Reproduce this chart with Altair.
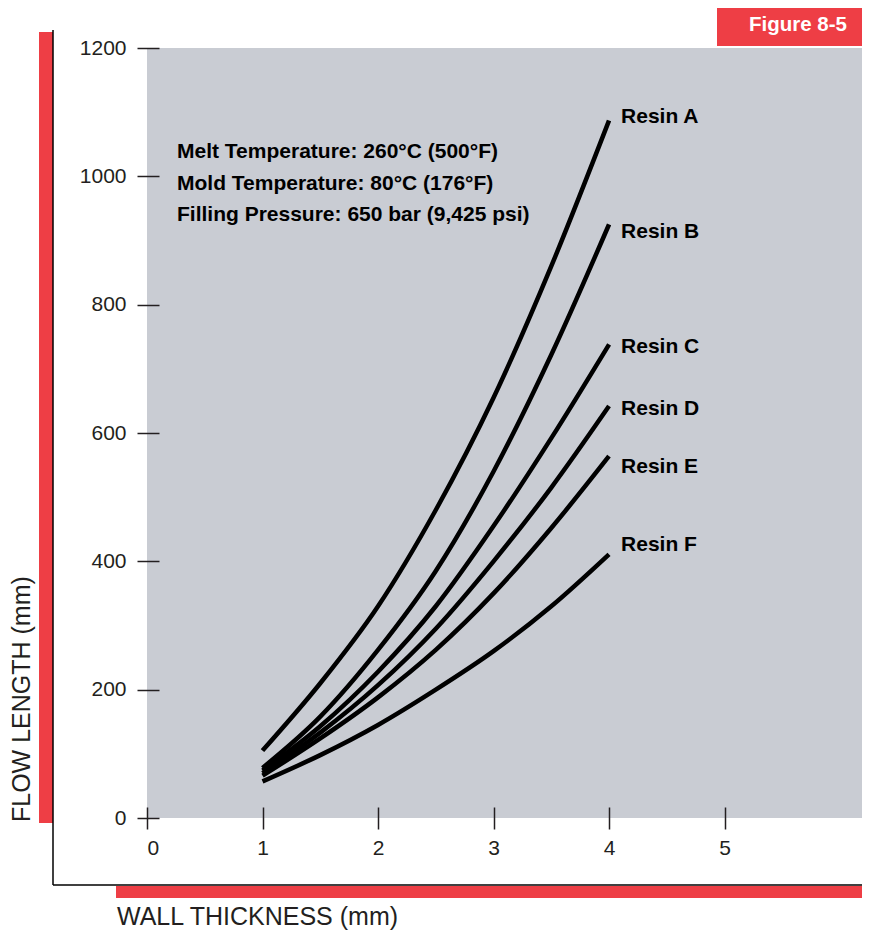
import altair as alt
import pandas as pd

# ---- data ----
thickness = [1.0, 1.5, 2.0, 2.5, 3.0, 3.5, 4.0]
resin_a = [105, 210, 330, 480, 655, 860, 1087]
resin_b = [78, 158, 262, 385, 540, 722, 925]
resin_c = [74, 143, 228, 330, 455, 592, 738]
resin_d = [70, 133, 207, 295, 400, 515, 642]
resin_e = [66, 124, 188, 262, 350, 452, 564]
resin_f = [57, 98, 145, 200, 260, 330, 411]
resins = ["Resin A", "Resin B", "Resin C", "Resin D", "Resin E", "Resin F"]
series = [resin_a, resin_b, resin_c, resin_d, resin_e, resin_f]
label_x = [4, 4, 4, 4, 4, 4]
label_y = [1093, 913, 734, 637, 547, 425]
x_ticks = [0, 1, 2, 3, 4, 5]
y_ticks = [0, 200, 400, 600, 800, 1000, 1200]
notes = ["Melt Temperature: 260°C (500°F)",
         "Mold Temperature: 80°C (176°F)",
         "Filling Pressure: 650 bar (9,425 psi)"]

rows = []
for name, vals in zip(resins, series):
    for t, v in zip(thickness, vals):
        rows.append({"thickness": t, "flow": v, "resin": name})
lines_df = pd.DataFrame(rows)
labels_df = pd.DataFrame({"resin": resins, "thickness": label_x, "flow": label_y})

W, H = 715, 770
RED = "#ee3e45"
GRAY = "#c9ccd3"
INK = "#231f20"
FONT = "Liberation Sans"

x_scale = alt.Scale(domain=[0, 6.19], nice=False, zero=False)
y_scale = alt.Scale(domain=[0, 1200], nice=False)

x_axis = alt.Axis(values=x_ticks, format="d", title=None, offset=-11, tickSize=22,
                  labelPadding=8, domain=False, grid=False, labelFont=FONT,
                  labelFontSize=21, labelColor=INK, tickColor=INK, tickWidth=1.5)
y_axis = alt.Axis(values=y_ticks, format="d", title=None, offset=-12, tickSize=22,
                  labelPadding=11, domain=False, grid=False, labelFont=FONT,
                  labelFontSize=21, labelColor=INK, tickColor=INK, tickWidth=1.5)

dummy = alt.Data(values=[{"k": 1}])

# decorations (frame bars)
red_v = alt.Chart(dummy).mark_rect(color=RED).encode(
    x=alt.value(-108), x2=alt.value(-94), y=alt.value(-16), y2=alt.value(775))
red_h = alt.Chart(dummy).mark_rect(color=RED).encode(
    x=alt.value(-31), x2=alt.value(W), y=alt.value(838), y2=alt.value(850))
black_v = alt.Chart(dummy).mark_rule(color="#000000", strokeWidth=1.5).encode(
    x=alt.value(-94), y=alt.value(-18), y2=alt.value(837))
black_h = alt.Chart(dummy).mark_rule(color="#000000", strokeWidth=1.5).encode(
    x=alt.value(-94), x2=alt.value(W), y=alt.value(837))
fig_box = alt.Chart(dummy).mark_rect(color=RED).encode(
    x=alt.value(570), x2=alt.value(W), y=alt.value(-48), y2=alt.value(-2))
fig_text = alt.Chart(dummy).mark_text(
    font=FONT, fontSize=20.5, fontWeight="bold", color="#ffffff",
    align="center", baseline="middle").encode(
    x=alt.value(651), y=alt.value(-23), text=alt.value("Figure 8-5"))

x_title = alt.Chart(dummy).mark_text(
    font=FONT, fontSize=25, color=INK, align="left", baseline="middle").encode(
    x=alt.value(-30), y=alt.value(869), text=alt.value("WALL THICKNESS (mm)"))
y_title = alt.Chart(dummy).mark_text(
    font=FONT, fontSize=25, color=INK, align="left", baseline="middle", angle=270).encode(
    x=alt.value(-125), y=alt.value(774), text=alt.value("FLOW LENGTH (mm)"))

note_text = alt.Chart(dummy).mark_text(
    font=FONT, fontSize=21, fontWeight="bold", color="#000000",
    align="left", baseline="middle", lineHeight=31.5).encode(
    x=alt.value(30), y=alt.value(104), text=alt.value(notes))

lines = alt.Chart(lines_df).mark_line(
    color="#000000", strokeWidth=4.5, interpolate="monotone", strokeCap="butt").encode(
    x=alt.X("thickness:Q", scale=x_scale, axis=x_axis),
    y=alt.Y("flow:Q", scale=y_scale, axis=y_axis),
    detail="resin:N")

labels = alt.Chart(labels_df).mark_text(
    font=FONT, fontSize=21, fontWeight="bold", color="#000000",
    align="left", baseline="middle", dx=12).encode(
    x=alt.X("thickness:Q", scale=x_scale),
    y=alt.Y("flow:Q", scale=y_scale),
    text="resin:N")

chart = alt.layer(
    red_v, black_v, red_h, black_h, fig_box, fig_text, x_title, y_title,
    lines, labels, note_text
).properties(
    width=W, height=H,
    autosize=alt.AutoSizeParams(type="none"),
    padding={"left": 139, "top": 40, "right": 0, "bottom": 112},
    background="#ffffff",
).configure_view(fill=GRAY, stroke=None)

chart.save("out.html", embed_options={"renderer": "svg", "actions": False})
